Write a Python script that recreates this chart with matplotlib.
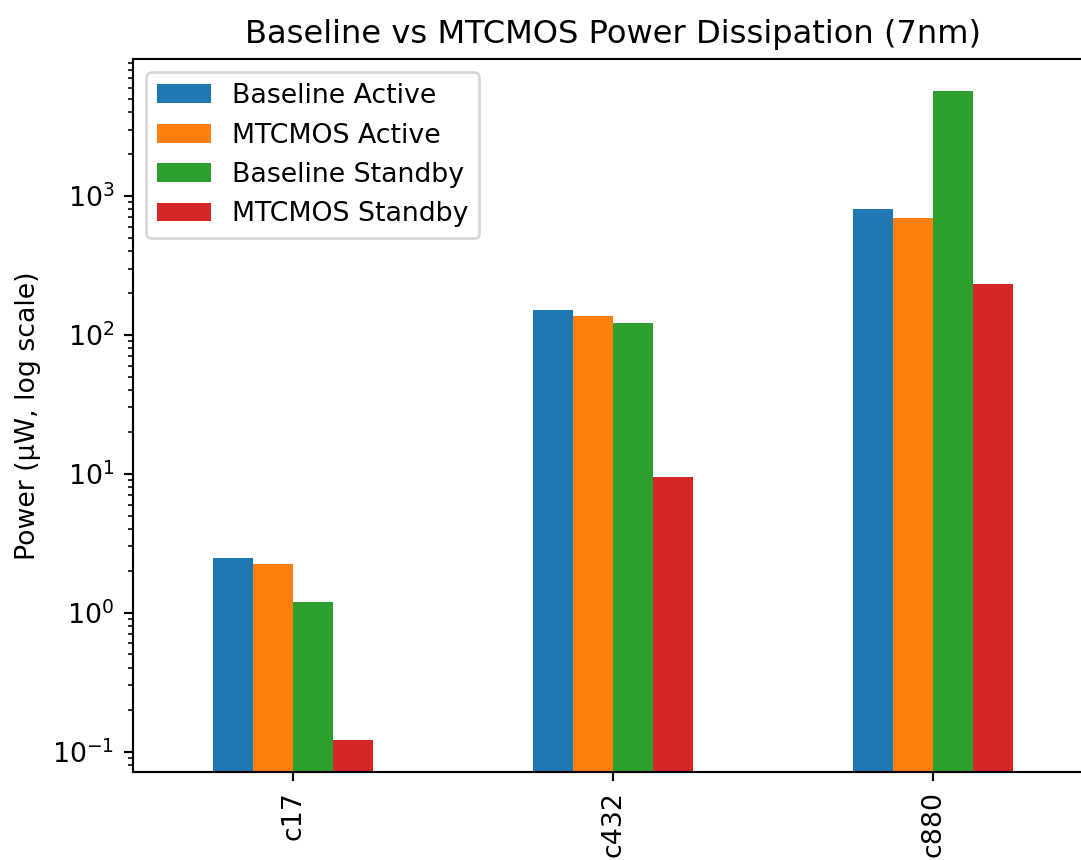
import matplotlib
matplotlib.use("Agg")
import matplotlib.pyplot as plt
import pandas as pd

# Power values in uW
circuits = ["c17", "c432", "c880"]
baseline_active = [2.48, 151.0, 810.0]
mtcmos_active = [2.25, 137.0, 690.0]
baseline_standby = [1.19, 121.0, 5650.0]
mtcmos_standby = [0.122, 9.5, 232.0]

df = pd.DataFrame(
    {
        "Baseline Active": baseline_active,
        "MTCMOS Active": mtcmos_active,
        "Baseline Standby": baseline_standby,
        "MTCMOS Standby": mtcmos_standby,
    },
    index=circuits,
)

DPI = 193
fig = plt.figure(figsize=(1081 / DPI, 860 / DPI), dpi=DPI)
ax = fig.add_axes([133 / 1081, 88 / 860, 960 / 1081, 713 / 860])

df.plot(kind="bar", ax=ax, logy=True)
ax.set_title("Baseline vs MTCMOS Power Dissipation (7nm)")
ax.set_ylabel("Power (µW, log scale)")
ax.legend(loc="upper left")

fig.savefig("out.png", dpi=DPI)
